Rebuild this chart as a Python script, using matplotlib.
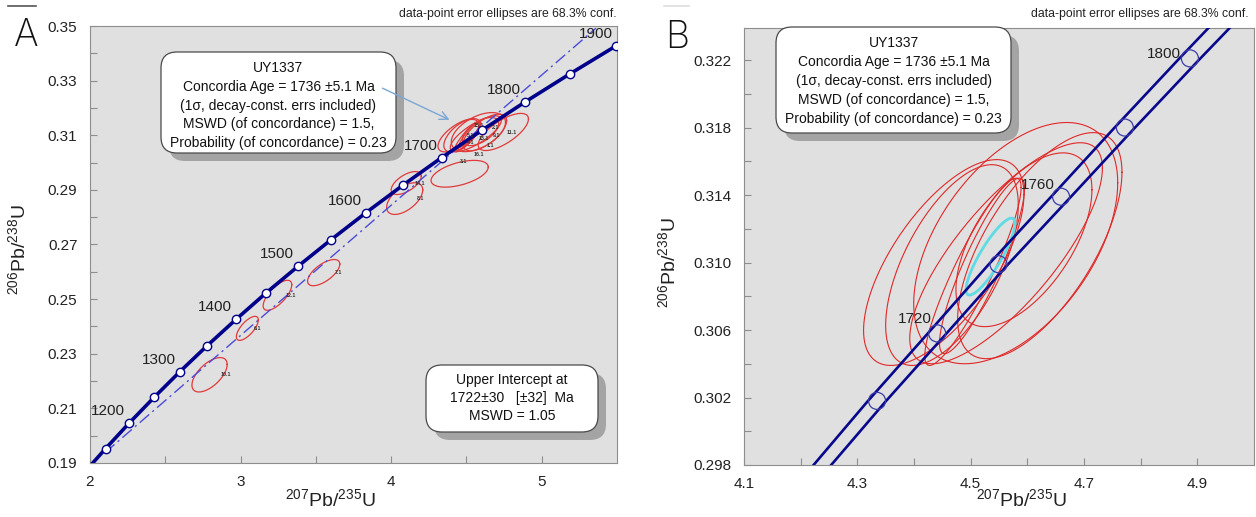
import numpy as np
import matplotlib
matplotlib.use("Agg")
import matplotlib.pyplot as plt
from matplotlib import font_manager
from matplotlib.patches import FancyBboxPatch, FancyArrowPatch
from matplotlib.lines import Line2D
from matplotlib.ticker import FixedLocator, FormatStrFormatter

# ---------------- data ----------------
# Panel A: concordia age marks (50 Ma steps)
conc_ages_A = [1100, 1150, 1200, 1250, 1300, 1350, 1400, 1450, 1500, 1550,
               1600, 1650, 1700, 1750, 1800, 1850, 1900]
conc_x_A = [1.955, 2.104, 2.260, 2.425, 2.598, 2.779, 2.970, 3.170, 3.381, 3.602,
            3.834, 4.078, 4.335, 4.605, 4.887, 5.185, 5.496]
conc_y_A = [0.1861, 0.1953, 0.2046, 0.2140, 0.2235, 0.2330, 0.2426, 0.2523, 0.2620, 0.2718,
            0.2817, 0.2917, 0.3018, 0.3119, 0.3221, 0.3324, 0.3428]
label_ages_A = [1200, 1300, 1400, 1500, 1600, 1700, 1800, 1900]

# Panel A: discordia (regression line, upper intercept 1722 Ma)
discordia_x = [2.10, 5.36]
discordia_y = [0.1938, 0.3492]

# Panel B: concordia band (decay-constant errors), 20 Ma steps
conc_ages_B = [1680, 1700, 1720, 1740, 1760, 1780, 1800, 1820]
conc_x_B = [4.2307, 4.3348, 4.4409, 4.5491, 4.6595, 4.7721, 4.8869, 5.0040]
conc_y_B = [0.2977, 0.3018, 0.3058, 0.3099, 0.3139, 0.3180, 0.3221, 0.3262]
band_half_B = [0.0155, 0.0160, 0.0165, 0.0170, 0.0175, 0.0180, 0.0185, 0.0190]
marker_ages_B = [1700, 1720, 1740, 1760, 1780, 1800]
label_ages_B = [1720, 1760, 1800]

# Spot error ellipses: centre, half-extents (x, y) and error correlation
spot_ids = ["10.1", "6.1", "12.1", "7.1", "14.1", "8.1", "3.1", "11.1",
            "1.1", "2.1", "4.1", "5.1", "9.1", "13.1", "15.1", "16.1"]
spot_x = [2.794, 3.045, 3.245, 3.552, 4.100, 4.090, 4.455, 4.745,
          4.4525, 4.467, 4.5795, 4.622, 4.5625, 4.594, 4.504, 4.520]
spot_y = [0.2223, 0.2393, 0.2514, 0.2597, 0.2925, 0.2868, 0.2959, 0.3112,
          0.3100, 0.30985, 0.31115, 0.3110, 0.31055, 0.31135, 0.30945, 0.3098]
spot_hx = [0.117, 0.073, 0.095, 0.107, 0.100, 0.120, 0.190, 0.167,
           0.1415, 0.117, 0.180, 0.145, 0.170, 0.120, 0.085, 0.075]
spot_hy = [0.0063, 0.0044, 0.0055, 0.0048, 0.0042, 0.0058, 0.0049, 0.0068,
           0.0061, 0.00595, 0.00715, 0.0067, 0.00655, 0.00515, 0.00555, 0.0052]
spot_rho = [0.60, 0.70, 0.70, 0.65, 0.60, 0.55, 0.50, 0.70,
            0.66, 0.60, 0.50, 0.65, 0.77, 0.575, 0.90, 0.88]
spot_in_B = [False, False, False, False, False, False, False, False,
             True, True, True, True, True, True, True, True]

# Concordia-age ellipse (panel B)
cage_x, cage_y, cage_hx, cage_hy, cage_rho = 4.535, 0.31035, 0.0431, 0.00228, 0.86

# ---------------- fonts ----------------
def has_font(name):
    try:
        font_manager.findfont(font_manager.FontProperties(family=name),
                              fallback_to_default=False)
        return True
    except Exception:
        return False

main_font = "Liberation Sans" if has_font("Liberation Sans") else "DejaVu Sans"
plt.rcParams["font.family"] = [main_font, "DejaVu Sans"]
plt.rcParams["mathtext.fontset"] = "custom"
plt.rcParams["mathtext.rm"] = main_font

light_font = None
for f in font_manager.fontManager.ttflist:
    if f.name in ("Lato", "Open Sans", "Roboto", "Inter", "Noto Sans"):
        w = f.weight if isinstance(f.weight, int) else 400
        if w <= 300 and f.style == "normal":
            light_font = (f.name, w)
            break

# ---------------- figure ----------------
W, H = 1256, 517
fig = plt.figure(figsize=(W / 100, H / 100), dpi=100)
fig.patch.set_facecolor("white")


def fy(py):
    return 1 - py / H


def inch(px, py):
    return (px / 100.0, (H - py) / 100.0)


axA = fig.add_axes([90 / W, 1 - 463 / H, 527 / W, 437 / H])
axB = fig.add_axes([744 / W, 1 - 465 / H, 510 / W, 437 / H])

for ax in (axA, axB):
    ax.set_facecolor("#e0e0e0")
    for s in ax.spines.values():
        s.set_color("#8e8e8e")
        s.set_linewidth(0.8)
    ax.tick_params(which="both", direction="in", length=5, width=0.8,
                   color="#8e8e8e", labelcolor="#222222", labelsize=11, pad=9)
    ax.tick_params(which="both", top=False, right=False)


def ellipse_xy(cx, cy, hx, hy, r, n=241):
    t = np.linspace(0, 2 * np.pi, n)
    return cx + hx * np.cos(t), cy + hy * (r * np.cos(t) + np.sqrt(1 - r * r) * np.sin(t))


# tiny spot-label placement inside the crowded cluster (layout only)
label_place = {"1.1": (4.66, 0.3062), "2.1": (4.69, 0.3127), "4.1": (4.53, 0.3072),
               "5.1": (4.53, 0.3100), "9.1": (4.70, 0.3100), "13.1": (4.615, 0.3088),
               "15.1": (4.58, 0.3135), "16.1": (4.58, 0.3030), "3.1": (4.478, 0.3004),
               "11.1": (4.80, 0.3109)}

# ---- Panel A ----
axA.set_xlim(2, 5.5)
axA.set_ylim(0.19, 0.35)
axA.xaxis.set_major_locator(FixedLocator([2, 3, 4, 5]))
axA.xaxis.set_minor_locator(FixedLocator([2.5, 3.5, 4.5]))
axA.xaxis.set_major_formatter(FormatStrFormatter("%g"))
axA.yaxis.set_major_locator(FixedLocator(np.round(np.arange(0.19, 0.3501, 0.02), 2)))
axA.yaxis.set_minor_locator(FixedLocator(np.round(np.arange(0.20, 0.3401, 0.02), 2)))
axA.yaxis.set_major_formatter(FormatStrFormatter("%.2f"))

for i, sid in enumerate(spot_ids):
    ex, ey = ellipse_xy(spot_x[i], spot_y[i], spot_hx[i], spot_hy[i], spot_rho[i])
    axA.plot(ex, ey, color="#e03a3a", lw=0.9, zorder=2)
    lx, ly = label_place.get(sid, (spot_x[i] + 0.9 * spot_hx[i], spot_y[i]))
    axA.text(lx, ly, sid, fontsize=3.8, color="#333333", ha="center", va="center",
             zorder=6, fontweight="bold")

axA.plot(discordia_x, discordia_y, color="#4b4bdc", lw=1.0,
         ls=(0, (9, 3, 1.5, 3)), zorder=3)
axA.plot(conc_x_A, conc_y_A, color="#00008b", lw=2.6, zorder=4,
         marker="o", ms=6, mfc="white", mec="#00008b", mew=1.0)
for age in label_ages_A:
    k = conc_ages_A.index(age)
    axA.annotate(str(age), (conc_x_A[k], conc_y_A[k]), xytext=(-21 * 0.72, 12 * 0.72),
                 textcoords="offset points", ha="center", va="center",
                 fontsize=11, color="#222222", zorder=6)

# ---- Panel B ----
axB.set_xlim(4.1, 5.0)
axB.set_ylim(0.298, 0.3239)
axB.xaxis.set_major_locator(FixedLocator([4.1, 4.3, 4.5, 4.7, 4.9]))
axB.xaxis.set_minor_locator(FixedLocator([4.2, 4.4, 4.6, 4.8]))
axB.xaxis.set_major_formatter(FormatStrFormatter("%.1f"))
axB.yaxis.set_major_locator(FixedLocator(np.round(np.arange(0.298, 0.3221, 0.004), 3)))
axB.yaxis.set_minor_locator(FixedLocator(np.round(np.arange(0.300, 0.3241, 0.004), 3)))
axB.yaxis.set_major_formatter(FormatStrFormatter("%.3f"))

for i, sid in enumerate(spot_ids):
    if spot_in_B[i]:
        ex, ey = ellipse_xy(spot_x[i], spot_y[i], spot_hx[i], spot_hy[i], spot_rho[i])
        axB.plot(ex, ey, color="#e02828", lw=0.8, zorder=2)

ex, ey = ellipse_xy(cage_x, cage_y, cage_hx, cage_hy, cage_rho)
axB.plot(ex, ey, color="#5edbe3", lw=2.0, zorder=3)

cxB = np.array(conc_x_B)
hwB = np.array(band_half_B)
axB.plot(cxB - hwB, conc_y_B, color="#08088c", lw=1.9, zorder=4)
axB.plot(cxB + hwB, conc_y_B, color="#08088c", lw=1.9, zorder=4)
mk = [conc_ages_B.index(a) for a in marker_ages_B]
axB.scatter([conc_x_B[k] for k in mk], [conc_y_B[k] for k in mk], s=150,
            facecolors="none", edgecolors="#3c3ca8", linewidths=0.9, zorder=5)
label_off_B = {1720: (-22, 14), 1760: (-23, 12), 1800: (-26, 4)}
for age in label_ages_B:
    k = conc_ages_B.index(age)
    ox, oy = label_off_B[age]
    axB.annotate(str(age), (conc_x_B[k], conc_y_B[k]), xytext=(ox * 0.72, oy * 0.72),
                 textcoords="offset points", ha="center", va="center",
                 fontsize=11, color="#222222", zorder=6)

# ---- axis labels ----
ylab = r"$^{\mathregular{206}}$Pb/$^{\mathregular{238}}$U"
xlab = r"$^{\mathregular{207}}$Pb/$^{\mathregular{235}}$U"
fig.text(19 / W, fy(250), ylab, rotation=90, ha="center", va="center", fontsize=14, color="#222222")
fig.text(669 / W, fy(263), ylab, rotation=90, ha="center", va="center", fontsize=14, color="#222222")
fig.text(330 / W, fy(500), xlab, ha="center", va="center", fontsize=14, color="#222222")
fig.text(1021 / W, fy(500), xlab, ha="center", va="center", fontsize=14, color="#222222")

# ---- headers ----
fig.text(617 / W, fy(14), "data-point error ellipses are 68.3% conf.", ha="right",
         va="center", fontsize=8.8, color="#222222")
fig.text(1249 / W, fy(14), "data-point error ellipses are 68.3% conf.", ha="right",
         va="center", fontsize=8.8, color="#222222")

if light_font:
    lkw = dict(family=light_font[0], fontweight=light_font[1])
else:
    lkw = dict(fontweight="light")
fig.text(26 / W, fy(36), "A", ha="center", va="center", fontsize=27, color="#111111", **lkw)
fig.text(677 / W, fy(38), "B", ha="center", va="center", fontsize=27, color="#111111", **lkw)

fig.add_artist(Line2D([8 / W, 36 / W], [fy(6), fy(6)], color="#555555", lw=1.2))
fig.add_artist(Line2D([664 / W, 689 / W], [fy(6), fy(6)], color="#dddddd", lw=1.2))


# ---- text boxes ----
def text_box(x0, y0, x1, y1, lines, ys):
    w, h = (x1 - x0) / 100.0, (y1 - y0) / 100.0
    sx, sy = inch(x0 + 8, y1 + 8)
    shadow = FancyBboxPatch((sx, sy), w, h, boxstyle="round,pad=0,rounding_size=0.16",
                            transform=fig.dpi_scale_trans, facecolor="#a4a4a4",
                            edgecolor="none", zorder=5)
    bx, by = inch(x0, y1)
    box = FancyBboxPatch((bx, by), w, h, boxstyle="round,pad=0,rounding_size=0.16",
                         transform=fig.dpi_scale_trans, facecolor="white",
                         edgecolor="#4a4a4a", lw=0.9, zorder=6)
    fig.add_artist(shadow)
    fig.add_artist(box)
    cx = (x0 + x1) / 2.0
    for t, yy in zip(lines, ys):
        fig.text(cx / W, fy(yy), t, ha="center", va="center", fontsize=10,
                 color="#111111", zorder=8)


conc_lines = ["UY1337", "Concordia Age = 1736 \u00b15.1 Ma",
              "(1\u03c3, decay-const. errs included)",
              "MSWD (of concordance) = 1.5,",
              "Probability (of concordance) = 0.23"]
text_box(161, 52, 396, 153, conc_lines, [68, 87, 106, 124, 143])
text_box(426, 365, 598, 432, ["Upper Intercept at", "1722\u00b130   [\u00b132]  Ma", "MSWD = 1.05"],
         [380, 398, 416])
text_box(776, 27, 1011, 133, conc_lines, [43, 62, 81, 100, 119])

arrow = FancyArrowPatch(inch(380, 87), inch(452, 121), arrowstyle="->,head_length=6,head_width=3",
                        transform=fig.dpi_scale_trans, color="#7aa6d6", lw=1.0, zorder=9)
fig.add_artist(arrow)

fig.savefig("out.png", dpi=100, facecolor="white")
